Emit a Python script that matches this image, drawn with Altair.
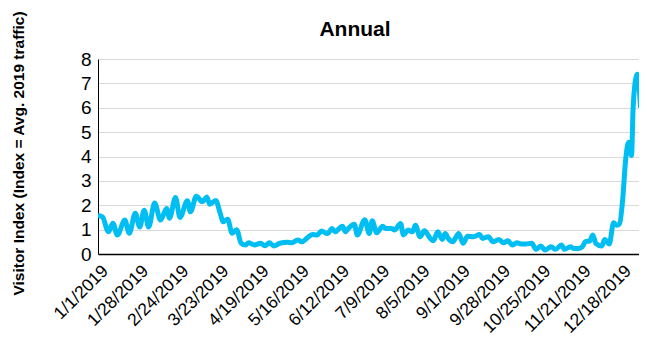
import altair as alt
import pandas as pd

# Day of year (0 = 1/1/2019) and visitor index
day_of_year = [
    0, 3, 7, 10, 13, 18, 21, 25, 28, 31,
    34, 38, 42, 46, 48, 52, 55, 60, 62, 66,
    70, 73, 75, 79, 82, 84, 87, 90, 93, 96,
    99, 101, 105, 109, 112, 115, 118, 122, 127, 130,
    134, 137, 140, 144, 147, 150, 154, 157, 159, 164,
    166, 168, 172, 174, 179, 182, 184, 187, 191, 193,
    197, 199, 203, 205, 208, 211, 213, 216, 219, 223,
    225, 228, 231, 233, 235, 238, 242, 245, 248, 252,
    256, 258, 262, 265, 269, 272, 275, 278, 281, 284,
    287, 291, 294, 297, 300, 304, 307, 311, 313, 317,
    319, 322, 325, 327, 330, 332, 334, 338, 340, 343,
    346, 348, 350, 352, 354, 356, 358, 359, 361, 362, 364,
]
visitor_index = [
    1.58, 1.52, 0.91, 1.26, 0.78, 1.39, 0.85, 1.67, 1.11, 1.80,
    1.11, 2.09, 1.39, 1.87, 1.47, 2.32, 1.50, 2.18, 1.73, 2.37,
    2.14, 2.34, 2.04, 2.20, 1.67, 1.32, 1.43, 0.85, 1.00, 0.45,
    0.37, 0.46, 0.37, 0.44, 0.34, 0.46, 0.33, 0.44, 0.48, 0.46,
    0.57, 0.50, 0.64, 0.80, 0.78, 0.94, 0.84, 1.05, 0.91, 1.14,
    0.91, 1.05, 1.22, 0.78, 1.41, 0.84, 1.36, 0.87, 1.14, 1.05,
    1.05, 0.98, 1.25, 0.78, 0.98, 0.91, 1.18, 0.71, 0.95, 0.64,
    0.54, 0.91, 0.60, 0.84, 0.64, 0.50, 0.84, 0.44, 0.73, 0.71,
    0.80, 0.64, 0.71, 0.50, 0.60, 0.46, 0.54, 0.37, 0.46, 0.41,
    0.41, 0.44, 0.19, 0.33, 0.16, 0.30, 0.19, 0.37, 0.19, 0.30,
    0.23, 0.23, 0.30, 0.50, 0.54, 0.78, 0.44, 0.33, 0.60, 0.41,
    1.28, 1.18, 1.25, 2.20, 3.84, 4.58, 4.04, 5.90, 7.24, 7.37, 6.00,
]

tick_days = [0, 27, 54, 81, 108, 135, 162, 189, 216, 243, 270, 297, 324, 351]
tick_labels = [
    "1/1/2019", "1/28/2019", "2/24/2019", "3/23/2019", "4/19/2019",
    "5/16/2019", "6/12/2019", "7/9/2019", "8/5/2019", "9/1/2019",
    "9/28/2019", "10/25/2019", "11/21/2019", "12/18/2019",
]
y_ticks = [0, 1, 2, 3, 4, 5, 6, 7, 8]
chart_title = ["Annual"]

df = pd.DataFrame({"day": day_of_year, "visitors": visitor_index})
title_df = pd.DataFrame({"title": chart_title})

label_expr = "[" + ",".join(f"'{t}'" for t in tick_labels) + "][round(datum.value / 27)]"

FONT = "Liberation Sans"

line = alt.Chart(df).mark_line(
    color="#00BEF2", strokeWidth=5, interpolate="monotone", clip=True
).encode(
    x=alt.X(
        "day:Q",
        scale=alt.Scale(domain=[0, 363], nice=False, zero=False),
        axis=alt.Axis(
            values=tick_days, labelExpr=label_expr, labelAngle=315,
            labelAlign="right", labelBaseline="middle", labelOverlap=False,
            labelFont=FONT, labelFontSize=17.5, labelColor="black",
            labelPadding=14, labelOffset=7,
            grid=False, ticks=False, domainColor="black", domainWidth=1.5,
            title=None,
        ),
    ),
    y=alt.Y(
        "visitors:Q",
        scale=alt.Scale(domain=[0, 8], nice=False),
        axis=alt.Axis(
            values=y_ticks, grid=True, gridColor="#D9D9D9", gridWidth=1,
            ticks=False, domainColor="black", domainWidth=1,
            labelFont=FONT, labelFontSize=19, labelColor="black", labelPadding=7,
            title="Visitor Index (Index = Avg. 2019 traffic)",
            titleFont=FONT, titleFontSize=15.5, titleFontWeight="bold", titleColor="black",
            titleAngle=270, titleAlign="center", titleBaseline="middle",
            titleX=-80, titleY=94,
        ),
    ),
)

title = alt.Chart(title_df).mark_text(
    font=FONT, fontSize=21, fontWeight="bold", color="black",
    align="center", baseline="alphabetic",
).encode(
    text="title:N",
    x=alt.value(257),
    y=alt.value(-23),
)

chart = alt.layer(line, title).properties(
    width=541,
    height=195,
    autosize=alt.AutoSizeParams(type="none"),
    padding={"left": 90, "top": 51, "right": 0, "bottom": 84},
).configure_view(stroke=None)

chart.save("out.html", embed_options={"renderer": "svg", "actions": False})
